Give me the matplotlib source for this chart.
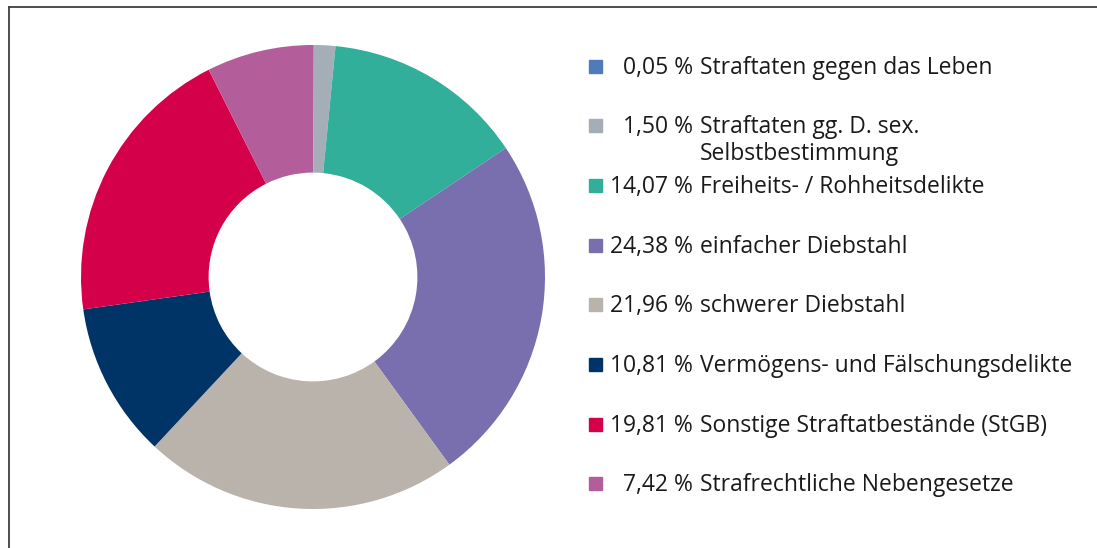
import matplotlib
matplotlib.use('Agg')
import matplotlib.pyplot as plt
from matplotlib.lines import Line2D
from matplotlib.patches import Rectangle

# share of offences (percent)
labels = ['Straftaten gegen das Leben',
          'Straftaten gg. D. sex.\nSelbstbestimmung',
          'Freiheits- / Rohheitsdelikte',
          'einfacher Diebstahl',
          'schwerer Diebstahl',
          'Vermögens- und Fälschungsdelikte',
          'Sonstige Straftatbestände (StGB)',
          'Strafrechtliche Nebengesetze']
values = [0.05, 1.50, 14.07, 24.38, 21.96, 10.81, 19.81, 7.42]
colors = ['#4f7bba', '#a5adb6', '#32af9b', '#7a6fae',
          '#bab3ac', '#003366', '#d5004a', '#b35e9b']

W, H = 1097, 548
plt.rcParams['font.family'] = ['Open Sans', 'DejaVu Sans']
fig = plt.figure(figsize=(W / 100, H / 100), dpi=100)

def fx(px):
    return px / W

def fy(py):
    return 1 - py / H

# donut, centre (313, 277), outer radius 232 px
cx, cy, r = 313, 277, 232
ax = fig.add_axes([fx(cx - r), fy(cy + r), 2 * r / W, 2 * r / H])
ax.pie(values, colors=colors, startangle=90, counterclock=False,
       radius=1, wedgeprops=dict(width=0.55, linewidth=0))
ax.set_xlim(-1, 1)
ax.set_ylim(-1, 1)
ax.set_aspect('equal')
ax.axis('off')

# frame (only left and top visible in the crop)
fig.add_artist(Line2D([fx(9), fx(9)], [fy(7), fy(H + 5)], color='#404040', lw=1.3,
                      transform=fig.transFigure))
fig.add_artist(Line2D([fx(9), fx(W + 5)], [fy(7), fy(7)], color='#404040', lw=1.3,
                      transform=fig.transFigure))

# legend drawn by hand
fs = 16.5
baselines = [74, 133, 193, 253, 312, 372, 432, 491]
for v, lab, c, b in zip(values, labels, colors, baselines):
    fig.add_artist(Rectangle((fx(589), fy(b - 1)), 13 / W, 13 / H, color=c,
                             transform=fig.transFigure))
    num = f'{v:.2f}'.replace('.', ',') + ' %'
    fig.text(fx(693), fy(b), num, ha='right', va='baseline', fontsize=fs,
             color='#1a1a1a')
    for k, line in enumerate(lab.split('\n')):
        fig.text(fx(700), fy(b + 27 * k), line, ha='left', va='baseline',
                 fontsize=fs, color='#1a1a1a')

fig.savefig('out.png', dpi=100)
